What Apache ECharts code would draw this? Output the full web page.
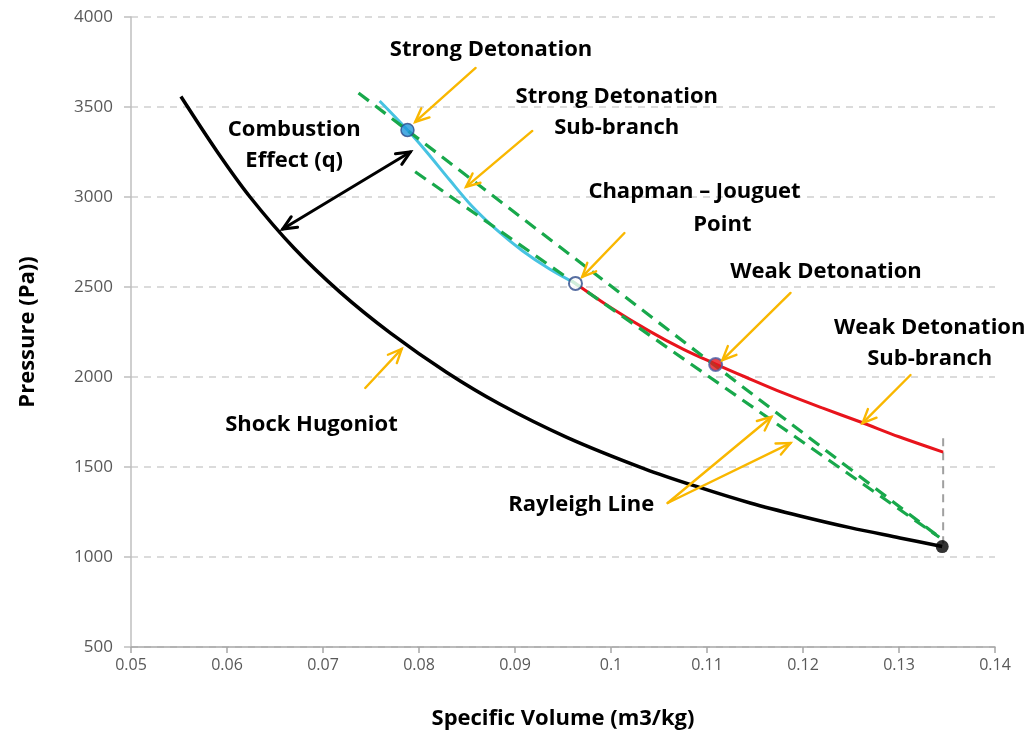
<!DOCTYPE html>
<html>
<head>
<meta charset="utf-8">
<script src="https://cdn.jsdelivr.net/npm/echarts@6/dist/echarts.min.js"></script>
<style>
  html, body { margin: 0; padding: 0; background: #ffffff; }
  #chart { width: 1032px; height: 736px; }
</style>
</head>
<body>
<div id="chart"></div>
<script>
// Shock Hugoniot of the unburnt mixture: [specific volume (m3/kg), pressure (Pa)]
const shockHugoniot = [
  [0.0552, 3558], [0.0590, 3250], [0.0624, 3000], [0.0670, 2715],
  [0.0718, 2470], [0.0770, 2245], [0.0829, 2025], [0.0884, 1850],
  [0.0954, 1665], [0.1035, 1490], [0.1093, 1385], [0.1145, 1300],
  [0.1197, 1228], [0.1249, 1163], [0.1301, 1106], [0.1345, 1058]
];

// Detonation Hugoniot, strong branch (above the Chapman-Jouguet point)
const strongBranch = [
  [0.0759, 3533], [0.0788, 3372], [0.0808, 3250], [0.0832, 3094],
  [0.0856, 2944], [0.0881, 2817], [0.0908, 2700], [0.0936, 2600],
  [0.0963, 2520]
];

// Detonation Hugoniot, weak branch (below the Chapman-Jouguet point)
const weakBranch = [
  [0.0963, 2520], [0.1000, 2385], [0.1040, 2255], [0.1075, 2155],
  [0.1109, 2072], [0.1140, 2000], [0.1180, 1910], [0.1220, 1828],
  [0.1260, 1750], [0.1300, 1668], [0.1346, 1583]
];

// Rayleigh lines through the initial state
const rayleighSecant = [[0.0737, 3578], [0.1342, 1110]];
const rayleighTangent = [[0.0796, 3140], [0.1342, 1110]];

// Constant-volume reference from the initial state up to the weak branch
const volumeLimit = [[0.1346, 1660], [0.1346, 1075]];

// Marked states
const strongPoint = [0.0788, 3372];
const cjPoint = [0.0963, 2520];
const weakPoint = [0.1109, 2070];
const initialState = [0.1345, 1058];

// Axis ranges
const volumeRange = [0.05, 0.14, 0.01];
const pressureRange = [500, 4000, 500];

// Callout arrows: [fromV, fromP, toV, toP]
const calloutArrows = [
  [0.0859, 3717, 0.0796, 3417],
  [0.0918, 3367, 0.0849, 3056],
  [0.1014, 2800, 0.0970, 2556],
  [0.1187, 2467, 0.1116, 2094],
  [0.1312, 2011, 0.1262, 1744],
  [0.0744, 1939, 0.0782, 2156],
  [0.1059, 1300, 0.1167, 1778],
  [0.1059, 1300, 0.1187, 1633]
];
const combustionArrow = [[0.0658, 2822, 0.0791, 3250]];

// Annotation texts anchored at [volume, pressure]
const annotationTexts = ['Strong Detonation', 'Strong Detonation\nSub-branch', 'Combustion\nEffect (q)',
  'Chapman \u2013 Jouguet', 'Point', 'Weak Detonation', 'Weak Detonation\nSub-branch',
  'Shock Hugoniot', 'Rayleigh Line'];
const annotationAnchors = [
  [0.0875, 3817], [0.1006, 3472], [0.0670, 3286],
  [0.1087, 3028], [0.1116, 2844], [0.1224, 2583], [0.1332, 2189],
  [0.0688, 1733], [0.0969, 1289]
];

const FONT = '"Open Sans", "Liberation Sans", sans-serif';

function arrowRenderer(color, width, headLen, bothEnds) {
  return function (params, api) {
    const a = api.coord([api.value(0), api.value(1)]);
    const b = api.coord([api.value(2), api.value(3)]);
    const ang = Math.atan2(b[1] - a[1], b[0] - a[0]);
    const spread = 0.42;
    const head = (tip, dir) => [
      [tip[0] - headLen * Math.cos(dir - spread), tip[1] - headLen * Math.sin(dir - spread)],
      [tip[0], tip[1]],
      [tip[0] - headLen * Math.cos(dir + spread), tip[1] - headLen * Math.sin(dir + spread)]
    ];
    const style = { stroke: color, lineWidth: width, fill: null, lineCap: 'round', lineJoin: 'miter' };
    const children = [
      { type: 'line', shape: { x1: a[0], y1: a[1], x2: b[0], y2: b[1] }, style: style },
      { type: 'polyline', shape: { points: head(b, ang) }, style: style }
    ];
    if (bothEnds) {
      children.push({ type: 'polyline', shape: { points: head(a, ang + Math.PI) }, style: style });
    }
    return { type: 'group', children: children };
  };
}

function textRenderer(params, api) {
  const p = api.coord([api.value(0), api.value(1)]);
  return {
    type: 'text',
    x: p[0], y: p[1],
    style: {
      text: annotationTexts[params.dataIndex],
      font: 'bold 22px ' + FONT,
      fill: '#000000',
      align: 'center',
      verticalAlign: 'middle',
      lineHeight: 31
    }
  };
}

const chart = echarts.init(document.getElementById('chart'), null, { renderer: 'canvas' });

chart.setOption({
  animation: false,
  backgroundColor: '#ffffff',
  grid: { left: 131, right: 37, top: 17, bottom: 89 },
  xAxis: {
    type: 'value',
    min: volumeRange[0], max: volumeRange[1], interval: volumeRange[2],
    name: 'Specific Volume (m3/kg)',
    nameLocation: 'middle',
    nameGap: 61,
    nameTextStyle: { fontFamily: FONT, fontWeight: 'bold', fontSize: 22, color: '#000000' },
    axisLine: { lineStyle: { color: '#A6A6A6', width: 1.5 } },
    axisTick: { show: true, length: 6, lineStyle: { color: '#A6A6A6', width: 1.5 } },
    axisLabel: {
      color: '#595959', fontSize: 16, fontFamily: FONT, margin: 10,
      formatter: v => String(+v.toFixed(2))
    },
    splitLine: { show: false }
  },
  yAxis: {
    type: 'value',
    min: pressureRange[0], max: pressureRange[1], interval: pressureRange[2],
    name: 'Pressure (Pa))',
    nameLocation: 'middle',
    nameGap: 92,
    nameTextStyle: { fontFamily: FONT, fontWeight: 'bold', fontSize: 22, color: '#000000' },
    axisLine: { show: true, lineStyle: { color: '#BFBFBF', width: 1.5 } },
    axisTick: { show: true, length: 7, lineStyle: { color: '#BFBFBF', width: 1.5 } },
    axisLabel: {
      color: '#595959', fontSize: 17, fontFamily: FONT, margin: 18,
      formatter: v => String(Math.round(v))
    },
    splitLine: { show: true, lineStyle: { color: '#CFCFCF', width: 1.5, type: [7, 6] } }
  },
  series: [
    {
      name: 'Constant volume', type: 'line', data: volumeLimit, symbol: 'none',
      lineStyle: { color: '#A0A0A0', width: 2, type: [8, 6] }, z: 2
    },
    {
      name: 'Shock Hugoniot', type: 'line', data: shockHugoniot, smooth: 0.35,
      symbol: 'none', lineStyle: { color: '#000000', width: 3.5 }, z: 3
    },
    {
      name: 'Weak branch', type: 'line', data: weakBranch, smooth: 0.35,
      symbol: 'none', lineStyle: { color: '#E8141C', width: 3 }, z: 4
    },
    {
      name: 'Strong branch', type: 'line', data: strongBranch, smooth: 0.35,
      symbol: 'none', lineStyle: { color: '#47C3E2', width: 3 }, z: 4
    },
    {
      name: 'Rayleigh secant', type: 'line', data: rayleighSecant, symbol: 'none',
      lineStyle: { color: '#18A84B', width: 3.2, type: [13, 8] }, z: 5
    },
    {
      name: 'Rayleigh tangent', type: 'line', data: rayleighTangent, symbol: 'none',
      lineStyle: { color: '#18A84B', width: 3.2, type: [13, 8] }, z: 5
    },
    {
      name: 'States', type: 'scatter', z: 8,
      data: [
        { value: strongPoint, symbolSize: 13, itemStyle: { color: '#1F96DB', borderColor: '#2D4A8A', borderWidth: 1.5 } },
        { value: cjPoint, symbolSize: 13, itemStyle: { color: '#FFFFFF', borderColor: '#2D4A8A', borderWidth: 2 } },
        { value: weakPoint, symbolSize: 13, itemStyle: { color: '#E8141C', borderColor: '#4B5FA6', borderWidth: 2 } },
        { value: initialState, symbolSize: 13, itemStyle: { color: '#000000' } }
      ]
    },
    {
      name: 'Callouts', type: 'custom', z: 9, clip: false,
      data: calloutArrows, encode: { x: [0, 2], y: [1, 3] },
      renderItem: arrowRenderer('#F9B700', 2.4, 15, false)
    },
    {
      name: 'Combustion effect', type: 'custom', z: 9, clip: false,
      data: combustionArrow, encode: { x: [0, 2], y: [1, 3] },
      renderItem: arrowRenderer('#000000', 3, 15, true)
    },
    {
      name: 'Annotations', type: 'custom', z: 10, clip: false,
      data: annotationAnchors, encode: { x: 0, y: 1 },
      renderItem: textRenderer
    }
  ]
});
</script>
</body>
</html>
